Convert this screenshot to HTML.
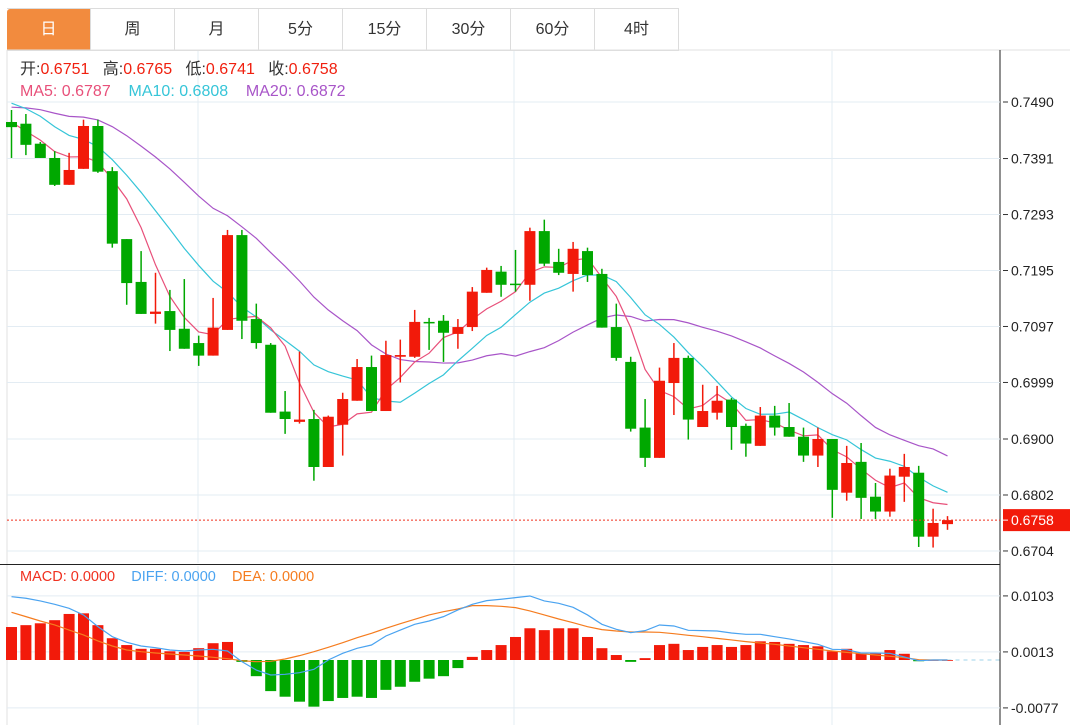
<!DOCTYPE html>
<html><head><meta charset="utf-8">
<style>
html,body{margin:0;padding:0;background:#fff;width:1070px;height:725px;overflow:hidden;font-family:"Liberation Sans","Noto Sans CJK SC",sans-serif;}
.tabs{position:absolute;left:7px;top:8px;height:42px;display:flex;border-top:1px solid #dcdcdc;}
.tab{width:84px;height:42px;border-right:1px solid #dcdcdc;border-bottom:1px solid #dcdcdc;box-sizing:border-box;text-align:center;line-height:42px;font-size:16px;color:#333;}
.tab.on{background:#f28b3e;color:#fff;border-radius:3px 0 0 0;}
.hdr{position:absolute;left:20px;font-size:16px;line-height:18px;white-space:nowrap;}
svg{position:absolute;left:0;top:0;}
</style></head><body>
<div class="tabs">
<div class="tab on">日</div>
<div class="tab">周</div>
<div class="tab">月</div>
<div class="tab">5分</div>
<div class="tab">15分</div>
<div class="tab">30分</div>
<div class="tab">60分</div>
<div class="tab">4时</div>
</div>
<svg id="chart" width="1070" height="725"></svg>
<div class="hdr" style="top:61px"><span style="color:#333">开:</span><span style="color:#f0200f">0.6751</span>&nbsp;&nbsp; <span style="color:#333">高:</span><span style="color:#f0200f">0.6765</span>&nbsp;&nbsp; <span style="color:#333">低:</span><span style="color:#f0200f">0.6741</span>&nbsp;&nbsp; <span style="color:#333">收:</span><span style="color:#f0200f">0.6758</span></div>
<div class="hdr" style="top:83px"><span style="color:#e8507a">MA5: 0.6787</span>&nbsp;&nbsp;&nbsp; <span style="color:#36c5d8">MA10: 0.6808</span>&nbsp;&nbsp;&nbsp; <span style="color:#a855c8">MA20: 0.6872</span></div>
<div class="hdr" style="top:568px;font-size:14.5px"><span style="color:#f0301f">MACD: 0.0000</span>&nbsp;&nbsp;&nbsp; <span style="color:#4aa3f0">DIFF: 0.0000</span>&nbsp;&nbsp;&nbsp; <span style="color:#f57c1f">DEA: 0.0000</span></div>
<script>
const opens=[0.7455,0.7452,0.7417,0.7392,0.7345,0.7373,0.7448,0.7369,0.7250,0.7175,0.7119,0.7124,0.7093,0.7068,0.7046,0.7091,0.7257,0.7110,0.7065,0.6948,0.6930,0.6935,0.6851,0.6925,0.6967,0.7026,0.6949,0.7044,0.7044,0.7105,0.7107,0.7084,0.7096,0.7156,0.7193,0.7172,0.7170,0.7264,0.7210,0.7189,0.7229,0.7189,0.7096,0.7035,0.6920,0.6867,0.6998,0.7042,0.6921,0.6946,0.6969,0.6923,0.6888,0.6941,0.6921,0.6904,0.6871,0.6900,0.6806,0.6860,0.6799,0.6773,0.6834,0.6841,0.6729,0.6751];
const closes=[0.7446,0.7415,0.7392,0.7345,0.7371,0.7448,0.7368,0.7242,0.7173,0.7119,0.7123,0.7091,0.7058,0.7046,0.7095,0.7257,0.7107,0.7068,0.6946,0.6935,0.6934,0.6851,0.6939,0.6970,0.7026,0.6949,0.7047,0.7047,0.7105,0.7103,0.7086,0.7096,0.7158,0.7196,0.7170,0.7170,0.7264,0.7207,0.7191,0.7233,0.7187,0.7095,0.7042,0.6918,0.6867,0.7002,0.7042,0.6934,0.6949,0.6967,0.6921,0.6892,0.6941,0.6920,0.6904,0.6871,0.6900,0.6811,0.6858,0.6797,0.6773,0.6836,0.6851,0.6729,0.6753,0.6758];
const highs=[0.7476,0.7469,0.7420,0.7404,0.7401,0.7459,0.7459,0.7376,0.7250,0.7229,0.7191,0.7161,0.7180,0.7081,0.7147,0.7266,0.7266,0.7137,0.7068,0.6984,0.7053,0.6951,0.6941,0.6981,0.7040,0.7046,0.7072,0.7074,0.7126,0.7112,0.7117,0.7110,0.7166,0.7200,0.7203,0.7231,0.7270,0.7284,0.7233,0.7245,0.7235,0.7198,0.7137,0.7044,0.6970,0.7025,0.7068,0.7046,0.6995,0.6993,0.6972,0.6927,0.6956,0.6958,0.6963,0.6920,0.6920,0.6900,0.6888,0.6893,0.6823,0.6848,0.6874,0.6853,0.6778,0.6765];
const lows=[0.7392,0.7397,0.7392,0.7343,0.7345,0.7373,0.7366,0.7235,0.7135,0.7119,0.7102,0.7054,0.7058,0.7028,0.7046,0.7091,0.7075,0.7058,0.6946,0.6909,0.6927,0.6827,0.6851,0.6871,0.6967,0.6949,0.6949,0.6999,0.7042,0.7056,0.7035,0.7058,0.7089,0.7156,0.7149,0.7158,0.7142,0.7203,0.7187,0.7158,0.7175,0.7095,0.7037,0.6913,0.6851,0.6867,0.6942,0.6899,0.6921,0.6934,0.6881,0.6869,0.6888,0.6906,0.6904,0.6860,0.6851,0.6762,0.6792,0.6760,0.6760,0.6764,0.6790,0.6711,0.6710,0.6741];
const prevCloses=[0.7440,0.7455,0.7470,0.7480,0.7475,0.7465,0.7478,0.7490,0.7485,0.7502,0.7510,0.7525,0.7530,0.7522,0.7518,0.7495,0.7470,0.7445,0.7418];
const priceTicks=[0.7490,0.7391,0.7293,0.7195,0.7097,0.6999,0.6900,0.6802,0.6704];
const macdHist=[0.0053,0.0056,0.0059,0.0064,0.0074,0.0075,0.0056,0.0035,0.0024,0.0018,0.0018,0.0014,0.0013,0.0019,0.0027,0.0029,-0.0003,-0.0026,-0.0050,-0.0059,-0.0067,-0.0075,-0.0066,-0.0061,-0.0059,-0.0061,-0.0048,-0.0043,-0.0035,-0.0030,-0.0026,-0.0013,0.0005,0.0016,0.0024,0.0037,0.0051,0.0048,0.0051,0.0051,0.0037,0.0019,0.0008,-0.0003,0.0003,0.0024,0.0026,0.0016,0.0021,0.0024,0.0021,0.0024,0.0030,0.0029,0.0026,0.0024,0.0022,0.0014,0.0018,0.0011,0.0011,0.0016,0.0010,-0.0002,0,0];
const diffVals=[0.01018,0.00992,0.00949,0.00895,0.00831,0.00724,0.00536,0.00375,0.00284,0.00225,0.00198,0.00161,0.00145,0.00161,0.00172,0.00145,-0.00027,-0.00161,-0.00241,-0.00230,-0.00204,-0.00150,0,0.00107,0.00188,0.00241,0.00386,0.00482,0.00574,0.00627,0.00697,0.00804,0.00895,0.00954,0.00976,0.01002,0.01029,0.00949,0.00911,0.00847,0.00724,0.00574,0.00493,0.00440,0.00472,0.00563,0.00547,0.00477,0.00472,0.00466,0.00434,0.00413,0.00413,0.00375,0.00338,0.00295,0.00252,0.00172,0.00166,0.00113,0.00113,0.00107,0.00048,-0.00011,0,0];
const deaVals=[0.00766,0.00697,0.00627,0.00563,0.00482,0.00402,0.00306,0.00225,0.00161,0.00134,0.00113,0.00096,0.00080,0.00064,0.00043,0.00021,-0.00011,-0.00027,-0.00021,0.00016,0.00070,0.00134,0.00204,0.00279,0.00359,0.00429,0.00509,0.00584,0.00654,0.00724,0.00777,0.00820,0.00874,0.00874,0.00863,0.00842,0.00788,0.00724,0.00659,0.00600,0.00536,0.00488,0.00466,0.00450,0.00450,0.00445,0.00423,0.00397,0.00375,0.00348,0.00322,0.00295,0.00273,0.00252,0.00225,0.00198,0.00172,0.00145,0.00123,0.00102,0.00080,0.00059,0.00038,0.00005,0,0];
const macdTicks=[0.0103,0.0013,-0.0077];
const lastPrice=0.6758;

const NS='http://www.w3.org/2000/svg';
const svg=document.getElementById('chart');
const RIGHT=1000, LEFT=7;
const py=p=>102+(0.7490-p)*5712;
const my=v=>660-v*6222;
const cx=i=>11.5+i*14.4;
function mk(tag,attrs,parent){const e=document.createElementNS(NS,tag);for(const k in attrs)e.setAttribute(k,attrs[k]);(parent||svg).appendChild(e);return e;}
const UP='#f21a0a', DN='#00a800';

let g=mk('g',{});


mk('line',{x1:LEFT,y1:50,x2:LEFT,y2:725,stroke:'#e0e0e0'},g);
mk('line',{x1:LEFT,y1:50,x2:1070,y2:50,stroke:'#e0e0e0'},g);
mk('line',{x1:RIGHT,y1:50,x2:RIGHT,y2:725,stroke:'#222'},g);
mk('line',{x1:0,y1:564.5,x2:RIGHT,y2:564.5,stroke:'#222'},g);
[198,514,832].forEach(x=>{mk('line',{x1:x,y1:51,x2:x,y2:563,stroke:'#e3ecf3'},g);mk('line',{x1:x,y1:566,x2:x,y2:725,stroke:'#e3ecf3'},g);});

priceTicks.forEach(p=>{
  const y=py(p);
  const l=mk('line',{x1:LEFT,y1:y,x2:RIGHT,y2:y,stroke:'#e3ecf3'});
  
  
  mk('line',{x1:RIGHT+3,y1:y,x2:RIGHT+8,y2:y,stroke:'#333'});
  const t=mk('text',{x:RIGHT+11,y:y+5,'font-size':14,fill:'#222','font-family':'Liberation Sans, sans-serif'});
  t.textContent=p.toFixed(4);
  
  
});
macdTicks.forEach(v=>{
  const y=my(v);
  mk('line',{x1:LEFT,y1:y,x2:RIGHT,y2:y,stroke:'#e3ecf3'});
  mk('line',{x1:RIGHT+3,y1:y,x2:RIGHT+8,y2:y,stroke:'#333'});
  const t=mk('text',{x:RIGHT+11,y:y+5,'font-size':14,fill:'#222','font-family':'Liberation Sans, sans-serif'});
  t.textContent=v.toFixed(4);
  
  
});

const all=prevCloses.concat(closes);
function ma(n){const out=[];for(let i=0;i<closes.length;i++){const k=i+prevCloses.length;let s=0;for(let j=k-n+1;j<=k;j++)s+=all[j];out.push(s/n);}return out;}
[[20,'#a855c8','ma20-line'],[10,'#36c5d8','ma10-line'],[5,'#e8507a','ma5-line']].forEach(([n,c,name])=>{
  const vals=ma(n);
  const pl=mk('polyline',{points:vals.map((v,i)=>cx(i)+','+py(v)).join(' '),fill:'none',stroke:c,'stroke-width':1.2});
  
  
});

closes.forEach((c,i)=>{
  const o=opens[i],up=c>=o,col=up?UP:DN,x=cx(i);
  const cg=mk('g',{});
  
  
  mk('line',{x1:x,y1:py(highs[i]),x2:x,y2:py(lows[i]),stroke:col,'stroke-width':1.5},cg);
  const top=py(Math.max(o,c)),bot=py(Math.min(o,c));
  mk('rect',{x:x-5.5,y:top,width:11,height:Math.max(bot-top,1.5),fill:col},cg);
});

const ly=py(lastPrice);
let lp=mk('line',{x1:LEFT,y1:ly,x2:RIGHT,y2:ly,stroke:'#f0301f','stroke-dasharray':'2,2'});


let lb=mk('rect',{x:RIGHT+3,y:ly-11,width:67,height:22,fill:'#f21a0a'});


mk('line',{x1:RIGHT+3,y1:ly,x2:RIGHT+8,y2:ly,stroke:'#fff'});
let lt=mk('text',{x:RIGHT+11,y:ly+5,'font-size':14,fill:'#fff','font-family':'Liberation Sans, sans-serif'});
lt.textContent=lastPrice.toFixed(4);



mk('line',{x1:cx(macdHist.length-1),y1:my(0),x2:RIGHT,y2:my(0),stroke:'#9fd3ea','stroke-dasharray':'4,4'});
macdHist.forEach((v,i)=>{
  const x=cx(i),y0=my(0),y1=my(v);
  const r=mk('rect',{x:x-5.5,y:Math.min(y0,y1),width:11,height:Math.max(Math.abs(y1-y0),0.8),fill:v>=0?UP:DN});
  
  
});
let dl=mk('polyline',{points:deaVals.map((v,i)=>cx(i)+','+my(v)).join(' '),fill:'none',stroke:'#f57c1f','stroke-width':1.2});


let fl=mk('polyline',{points:diffVals.map((v,i)=>cx(i)+','+my(v)).join(' '),fill:'none',stroke:'#4aa3f0','stroke-width':1.2});


</script>
</body></html>
